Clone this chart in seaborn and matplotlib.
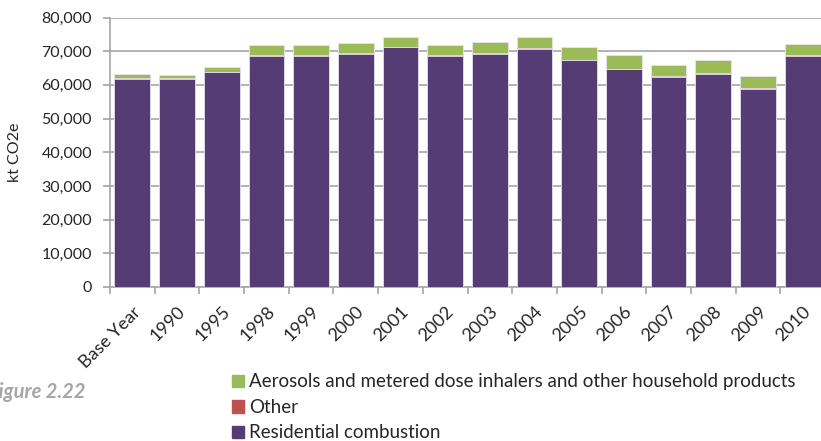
import matplotlib
matplotlib.use("Agg")
import matplotlib.pyplot as plt
import matplotlib.ticker as mticker
from matplotlib.patches import Patch
import numpy as np
import pandas as pd
import seaborn as sns

YEARS = ["Base Year", "1990", "1995", "1998", "1999", "2000", "2001", "2002",
         "2003", "2004", "2005", "2006", "2007", "2008", "2009", "2010"]
RESIDENTIAL = [61800, 61800, 63800, 68700, 68700, 69300, 71200, 68700,
               69300, 70700, 67300, 64700, 62400, 63300, 58800, 68700]
OTHER = [150, 150, 150, 150, 150, 150, 150, 150,
         150, 150, 150, 150, 150, 150, 150, 150]
AEROSOLS = [1300, 850, 1300, 2850, 2850, 2950, 2800, 2850,
            3250, 3300, 3750, 3900, 3300, 3800, 3800, 3400]

C_RES = "#553C75"
C_OTH = "#C0504D"
C_AER = "#9BBB59"
GRID = "#A6A6A6"

sns.set_theme(style="white")
plt.rcParams["font.family"] = ["Lato", "DejaVu Sans"]

df = pd.DataFrame({"year": YEARS, "res": RESIDENTIAL, "oth": OTHER, "aer": AEROSOLS})
df["lvl2"] = df["res"] + df["oth"]
df["lvl3"] = df["lvl2"] + df["aer"]

fig = plt.figure(figsize=(8.21, 4.41), dpi=100)
ax = fig.add_axes([110 / 821, 1 - 287 / 441, 715 / 821, 269.5 / 441])

# stacked bars: draw cumulative totals, largest first
kw = dict(x="year", order=YEARS, width=0.8, edgecolor="#E8E4EE", linewidth=0.6, ax=ax, zorder=3)
sns.barplot(data=df, y="lvl3", color=C_AER, saturation=1, **kw)
sns.barplot(data=df, y="lvl2", color=C_OTH, saturation=1, **kw)
sns.barplot(data=df, y="res", color=C_RES, saturation=1, **kw)

ax.set_xlim(-0.5, len(YEARS) - 0.5)
ax.set_ylim(0, 80000)
ax.yaxis.set_major_locator(mticker.MultipleLocator(10000))
ax.yaxis.set_major_formatter(mticker.StrMethodFormatter("{x:,.0f}"))
ax.grid(axis="y", color=GRID, linewidth=1.2, zorder=0)
ax.set_axisbelow(True)
for s in ["top", "right"]:
    ax.spines[s].set_visible(False)
for s in ["left", "bottom"]:
    ax.spines[s].set_color(GRID)
    ax.spines[s].set_linewidth(1.2)

ax.tick_params(axis="y", which="major", left=True, length=5, color=GRID, labelsize=11.5, pad=8)
ax.set_xticks(np.arange(len(YEARS)))
ax.set_xticklabels(YEARS, rotation=45, ha="right", rotation_mode="anchor", fontsize=13)
ax.tick_params(axis="x", which="major", bottom=False, length=0, pad=12)
ax.set_xticks(np.arange(len(YEARS) + 1) - 0.5, minor=True)
ax.tick_params(axis="x", which="minor", bottom=True, length=5, color=GRID, width=1.2)
ax.set_xlabel("")
ax.set_ylabel("kt CO2e", fontsize=11.5, labelpad=14)

handles = [Patch(color=C_AER, label="Aerosols and metered dose inhalers and other household products"),
           Patch(color=C_OTH, label="Other"),
           Patch(color=C_RES, label="Residential combustion")]
fig.legend(handles=handles, loc="upper left", bbox_to_anchor=(224 / 821, 1 - 366 / 441),
           frameon=False, fontsize=13.5, handlelength=0.65, handleheight=0.65,
           handletextpad=0.3, labelspacing=0.45, borderaxespad=0)

# caption is cropped at the left edge in the source image
fig.text(85 / 821, 1 - 392 / 441, "Figure 2.22", ha="right", va="center",
         fontsize=14.5, fontweight="bold", fontstyle="italic", color="#A6A6A6")

fig.savefig("out.png", dpi=100)
